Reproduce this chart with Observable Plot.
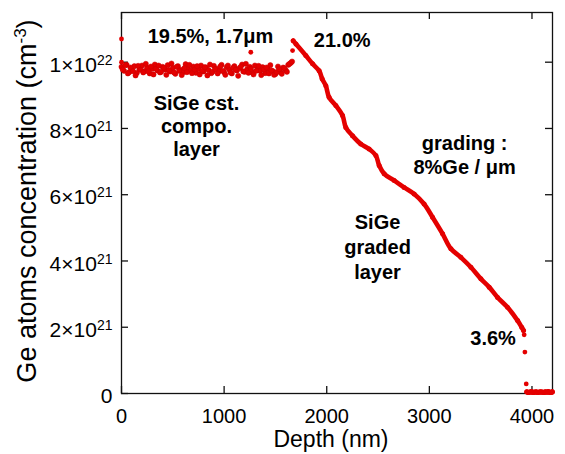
<!DOCTYPE html>
<html>
<head>
<meta charset="utf-8">
<script src="https://cdn.jsdelivr.net/npm/d3@7"></script>
<script src="https://cdn.jsdelivr.net/npm/@observablehq/plot@0.6"></script>
<style>
  html, body { margin: 0; padding: 0; background: white; }
</style>
</head>
<body>
<div id="chart"></div>
<script>
// ---- data (concentration in units of 1e21 cm^-3, depth in nm) ----
const constDepth = [0,25,50,75,100,125,150,175,200,225,250,275,300,325,350,375,400,425,450,475,
  500,525,550,575,600,625,650,675,700,725,750,775,800,825,850,875,900,925,950,975,
  1000,1025,1050,1075,1100,1125,1150,1175,1200,1225,1250,1275,1300,1325,1350,1375,1400,1425,1450,1475,
  1500,1525,1550,1575,1600,1625,1650];
const constConc = [9.86,9.74,9.92,9.70,9.81,9.88,9.68,9.79,9.90,9.73,
  9.84,9.66,9.80,9.93,9.75,9.69,9.86,9.78,9.91,9.72,
  9.83,9.65,9.88,9.77,9.70,9.94,9.81,9.74,9.87,9.68,
  9.79,9.90,9.72,9.84,9.76,9.67,9.89,9.80,9.73,9.92,
  9.70,9.85,9.78,9.66,9.88,9.75,9.82,9.93,9.71,9.79,
  9.86,9.69,9.90,9.77,9.74,9.85,9.67,9.81,9.91,9.73,
  9.64,9.87,9.70,9.84,9.76,9.92,9.98];
const constDepth2 = [12,37,62,87,112,137,162,187,212,237,262,287,312,337,362,387,412,437,462,487,
  512,537,562,587,612,637,662,687,712,737,762,787,812,837,862,887,912,937,962,987,
  1012,1037,1062,1087,1112,1137,1162,1187,1212,1237,1262,1287,1312,1337,1362,1387,1412,1437,1462,1487,
  1512,1537,1562,1587,1612,1637,1662];
const constConc2 = [9.78,9.91,9.66,9.84,9.73,9.60,9.89,9.77,9.69,9.95,
  9.72,9.87,9.63,9.80,9.90,9.71,9.83,9.62,9.76,9.96,
  9.69,9.86,9.74,9.61,9.82,9.70,9.92,9.67,9.78,9.88,
  9.63,9.75,9.85,9.60,9.93,9.71,9.79,9.66,9.87,9.74,
  9.62,9.90,9.69,9.83,9.77,9.59,9.86,9.72,9.95,9.68,
  9.80,9.63,9.74,9.89,9.61,9.78,9.84,9.66,9.75,9.62,
  9.70,9.79,9.65,9.82,9.71,9.95,10.02];
const outlierDepth = [0, 0, 1260, 1667];
const outlierConc = [10.7, 10.0, 10.3, 10.35];

const gradDepth = [1673,1700,1796,1862,1926,1955,1991,2023,2089,2154,2186,2251,2332,2413,2479,2511,2560,2657,2754,2852,
  2949,3031,3129,3210,3307,3405,3502,3583,3665,3762,3860,3900,3918];
const gradConc = [10.65,10.55,10.20,9.95,9.74,9.50,9.29,8.94,8.69,8.39,8.03,7.78,7.53,7.38,7.18,6.88,6.63,6.43,6.22,6.02,
  5.72,5.32,4.82,4.37,4.11,3.81,3.46,3.21,2.90,2.60,2.20,2.00,1.90];

const tailDepth = [3924, 3931, 3944];
const tailConc = [1.77, 1.25, 0.29];

const flatDepth = [3950,3965,3980,3995,4010,4025,4040,4055,4070,4085,4100,4115,4130,4145,4160,4175,4190,4198];
const flatConc = [0.05,0.03,0.04,0.06,0.03,0.04,0.05,0.03,0.04,0.05,0.04,0.03,0.05,0.04,0.06,0.03,0.04,0.05];

const xTicks = [0, 1000, 2000, 3000, 4000];
const yTicks = [0, 2, 4, 6, 8, 10];
const yTickLabels = ["0", "2×10^21", "4×10^21", "6×10^21", "8×10^21", "1×10^22"];

const annText = ["19.5%, 1.7μm", "21.0%", "SiGe cst.\ncompo.\nlayer", "grading :\n8%Ge / μm", "SiGe\ngraded\nlayer", "3.6%"];
const annDepth = [867, 2151, 731, 3343, 2495, 3621];
const annConc = [10.78, 10.65, 8.08, 7.21, 4.46, 1.67];
const annLineHeight = [1, 1, 1.13, 1.2, 1.25, 1];

// ---- tables ----
const zip = (xs, ys) => xs.map((x, i) => ({depth: x, conc: ys[i]}));
const constData = zip(constDepth, constConc).concat(zip(constDepth2, constConc2));
const outlierData = zip(outlierDepth, outlierConc);
const gradData = zip(gradDepth, gradConc);
const tailData = zip(tailDepth, tailConc);
const flatData = zip(flatDepth, flatConc);
const annData = annText.map((t, i) => ({text: t, depth: annDepth[i], conc: annConc[i], lh: annLineHeight[i]}));

const W = 565, H = 454, mL = 121, mR = 13, mT = 12, mB = 61;
const plotW = W - mL - mR, plotH = H - mT - mB;
const tickLen = 7;
const red = "#e40000";
const font = "'Liberation Sans', Arial, Helvetica, sans-serif";

const chart = Plot.plot({
  width: W, height: H,
  marginLeft: mL, marginRight: mR, marginTop: mT, marginBottom: mB,
  style: {fontFamily: font, background: "white", color: "black"},
  x: {domain: [0, 4200]},
  y: {domain: [0, 11.5]},
  marks: [
    Plot.axisX(xTicks, {tickSize: 0, tickPadding: 15, fontSize: 20, label: null, tickFormat: d => String(d)}),
    Plot.axisY(yTicks, {tickSize: 0, tickPadding: 9, fontSize: 21, label: null,
      tickFormat: d => yTickLabels[yTicks.indexOf(d)]}),
    Plot.frame({stroke: "#111", strokeWidth: 1.3}),
    Plot.tickX(xTicks, {x: d => d, insetTop: plotH - tickLen, stroke: "#111", strokeWidth: 1.3}),
    Plot.tickX(xTicks, {x: d => d, insetBottom: plotH - tickLen, stroke: "#111", strokeWidth: 1.3}),
    Plot.tickY(yTicks, {y: d => d, insetRight: plotW - tickLen, stroke: "#111", strokeWidth: 1.3}),
    Plot.tickY(yTicks, {y: d => d, insetLeft: plotW - tickLen, stroke: "#111", strokeWidth: 1.3}),
    Plot.line(gradData, {x: "depth", y: "conc", stroke: red, strokeWidth: 4.6, curve: "catmull-rom"}),
    Plot.line(flatData, {x: "depth", y: "conc", stroke: red, strokeWidth: 5}),
    Plot.dot(constData, {x: "depth", y: "conc", r: 2.6, fill: red, stroke: "#c80000", strokeWidth: 0.5}),
    Plot.dot(outlierData, {x: "depth", y: "conc", r: 2.4, fill: red}),
    Plot.dot(gradData, {x: "depth", y: "conc", r: 2.5, fill: red}),
    Plot.dot(tailData, {x: "depth", y: "conc", r: 2.4, fill: red}),
    Plot.dot(flatData, {x: "depth", y: "conc", r: 2.6, fill: red}),
    ...annData.map(a => Plot.text([a], {x: "depth", y: "conc", text: "text", fontSize: 20, fontWeight: "bold",
      fill: "black", textAnchor: "middle", lineAnchor: "middle", lineHeight: a.lh}))
  ]
});

document.getElementById("chart").appendChild(chart);

const svg = d3.select(chart);
// superscripts in y tick labels
svg.selectAll('g[aria-label="y-axis tick label"] text').each(function () {
  const t = d3.select(this);
  const s = t.text();
  if (s.includes("^")) {
    const [base, sup] = s.split("^");
    t.text(null);
    t.append("tspan").text(base);
    t.append("tspan").attr("font-size", 14).attr("dy", -7).text(sup);
  }
  t.attr("transform", (t.attr("transform") || "") + " translate(0,3)");
});

// axis titles
const yTitle = svg.append("text")
  .attr("transform", "translate(36,201) rotate(-90)")
  .attr("text-anchor", "middle")
  .attr("font-family", font)
  .attr("font-size", 27)
  .attr("fill", "black");
yTitle.append("tspan").text("Ge atoms concentration (cm");
yTitle.append("tspan").attr("font-size", 17).attr("dy", -10).text("-3");
yTitle.append("tspan").attr("dy", 10).text(")");

svg.append("text")
  .attr("x", 331).attr("y", 447)
  .attr("text-anchor", "middle")
  .attr("font-family", font)
  .attr("font-size", 23)
  .attr("fill", "black")
  .text("Depth (nm)");
</script>
</body>
</html>
